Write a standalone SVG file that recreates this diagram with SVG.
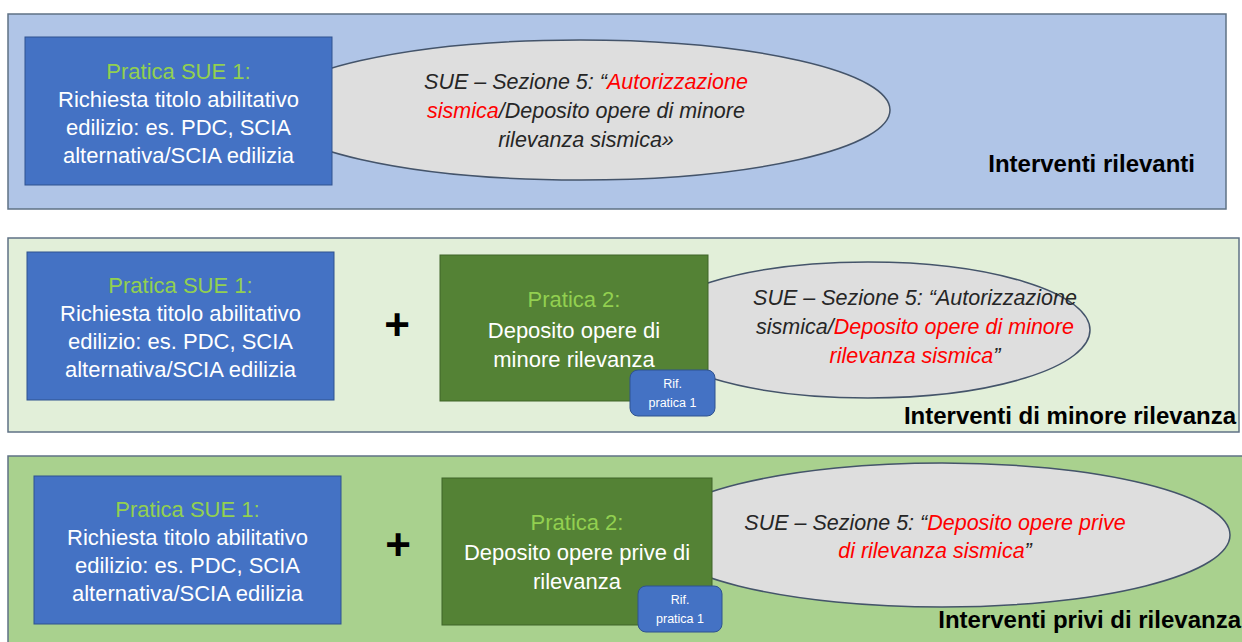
<svg xmlns="http://www.w3.org/2000/svg" width="1242" height="642" viewBox="0 0 1242 642">
<style>
.panel{stroke:#5f7285;stroke-width:1.5}
.blue{fill:#4472c4;stroke:#2f528f;stroke-width:1}
.green{fill:#548235;stroke:#3f6428;stroke-width:1}
.ell{fill:#dedede;stroke:#44546a;stroke-width:1.5}
.rif{fill:#4472c4;stroke:#2f528f;stroke-width:1}
text{font-family:"Liberation Sans",Arial,sans-serif}
.bt{fill:#ffffff;font-size:22px;text-anchor:middle}
.gt{fill:#92d050}
.et{fill:#262626;font-size:21.5px;font-style:italic;text-anchor:middle}
.red{fill:#ff0000}
.lbl{fill:#000000;font-size:24px;font-weight:bold;text-anchor:end}
.plus{fill:#000000;font-size:44px;font-weight:bold;text-anchor:middle}
.rt{fill:#ffffff;font-size:12.5px;text-anchor:middle}
</style>

<g id="panel1">
<rect class="panel" x="8" y="14" width="1218" height="195" fill="#b0c5e7"/>
<g id="ellipse1"><ellipse class="ell" cx="580" cy="110" rx="310" ry="70"/>
<text class="et" x="586" y="89">SUE – Sezione 5: “<tspan class="red">Autorizzazione</tspan></text>
<text class="et" x="586" y="118"><tspan class="red">sismica</tspan>/Deposito opere di minore</text>
<text class="et" x="586" y="147">rilevanza sismica»</text></g>
<g id="box1"><rect class="blue" x="25" y="37" width="307" height="148"/>
<text class="bt" x="178.5" y="79"><tspan class="gt">Pratica SUE 1:</tspan></text>
<text class="bt" x="178.5" y="107">Richiesta titolo abilitativo</text>
<text class="bt" x="178.5" y="135">edilizio: es. PDC, SCIA</text>
<text class="bt" x="178.5" y="163">alternativa/SCIA edilizia</text></g>
<text class="lbl" x="1195" y="172">Interventi rilevanti</text>
</g>

<g id="panel2">
<rect class="panel" x="8" y="238" width="1231" height="194" fill="#e2efd9"/>
<g id="ellipse2"><ellipse class="ell" cx="868" cy="330" rx="222" ry="68"/>
<text class="et" x="915" y="305">SUE – Sezione 5: “Autorizzazione</text>
<text class="et" x="915" y="334">sismica/<tspan class="red">Deposito opere di minore</tspan></text>
<text class="et" x="915" y="363"><tspan class="red">rilevanza sismica</tspan>”</text></g>
<g id="box2"><rect class="blue" x="27" y="252" width="307" height="148"/>
<text class="bt" x="180.5" y="293"><tspan class="gt">Pratica SUE 1:</tspan></text>
<text class="bt" x="180.5" y="321">Richiesta titolo abilitativo</text>
<text class="bt" x="180.5" y="349">edilizio: es. PDC, SCIA</text>
<text class="bt" x="180.5" y="377">alternativa/SCIA edilizia</text></g>
<text class="plus" x="397" y="340">+</text>
<g id="pratica2a"><rect class="green" x="440" y="255" width="268" height="146"/>
<text class="bt" x="574" y="307"><tspan class="gt">Pratica 2:</tspan></text>
<text class="bt" x="574" y="338">Deposito opere di</text>
<text class="bt" x="574" y="367">minore rilevanza</text></g>
<g id="rif2"><rect class="rif" x="630" y="370" width="85" height="46" rx="8"/>
<text class="rt" x="672.5" y="388">Rif.</text>
<text class="rt" x="672.5" y="407">pratica 1</text></g>
<text class="lbl" x="1236" y="424">Interventi di minore rilevanza</text>
</g>

<g id="panel3">
<rect class="panel" x="8" y="456" width="1250" height="200" fill="#a9d18e"/>
<g id="ellipse3"><ellipse class="ell" cx="942" cy="535" rx="288" ry="72"/>
<text class="et" x="935" y="530">SUE – Sezione 5: “<tspan class="red">Deposito opere prive</tspan></text>
<text class="et" x="935" y="558"><tspan class="red">di rilevanza sismica</tspan>”</text></g>
<g id="box3"><rect class="blue" x="34" y="476" width="307" height="148"/>
<text class="bt" x="187.5" y="517"><tspan class="gt">Pratica SUE 1:</tspan></text>
<text class="bt" x="187.5" y="545">Richiesta titolo abilitativo</text>
<text class="bt" x="187.5" y="573">edilizio: es. PDC, SCIA</text>
<text class="bt" x="187.5" y="601">alternativa/SCIA edilizia</text></g>
<text class="plus" x="398" y="560">+</text>
<g id="pratica2b"><rect class="green" x="442" y="478" width="270" height="147"/>
<text class="bt" x="577" y="530"><tspan class="gt">Pratica 2:</tspan></text>
<text class="bt" x="577" y="560">Deposito opere prive di</text>
<text class="bt" x="577" y="589">rilevanza</text></g>
<g id="rif3"><rect class="rif" x="638" y="586" width="84" height="46" rx="8"/>
<text class="rt" x="680" y="604">Rif.</text>
<text class="rt" x="680" y="623">pratica 1</text></g>
<text class="lbl" x="1241" y="628">Interventi privi di rilevanza</text>
</g>
<g id="connectors"></g>
</svg>
